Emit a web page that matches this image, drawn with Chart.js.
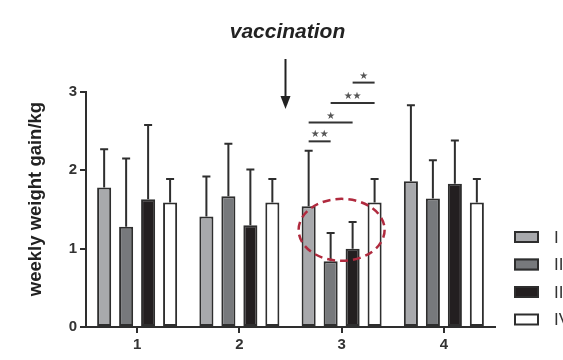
<!DOCTYPE html>
<html><head><meta charset="utf-8">
<script src="https://cdn.jsdelivr.net/npm/chart.js@4"></script>
<style>html,body{margin:0;padding:0;background:#fff}#w{width:563px;height:360px}</style>
</head><body><div id="w"><canvas id="c" width="563" height="360"></canvas></div>
<script>
const categories = ['1','2','3','4'];
const groupNames = ['I','II','III','IV'];
const meanI   = [1.78, 1.41, 1.54, 1.86];
const meanII  = [1.28, 1.67, 0.84, 1.64];
const meanIII = [1.63, 1.30, 1.00, 1.83];
const meanIV  = [1.59, 1.59, 1.59, 1.59];
const errI    = [2.27, 1.92, 2.25, 2.83];
const errII   = [2.15, 2.34, 1.20, 2.13];
const errIII  = [2.58, 2.01, 1.34, 2.38];
const errIV   = [1.89, 1.89, 1.89, 1.89];
const yTicks = [0, 1, 2, 3];
const yTitle = 'weekly weight gain/kg';
// significance: [datasetA, datasetB, label, yLevel] in category 3
const sigCategory = 2;
const sigPairs = [[0,1,'**',2.37],[0,2,'*',2.61],[1,3,'**',2.86],[2,3,'*',3.12]];

const fills = ['#a8a9ac','#77797c','#231f20','#ffffff'];
const edge = '#2e2e2e';
const FONT = '"Liberation Sans", Arial, Helvetica, sans-serif';

const means = [meanI, meanII, meanIII, meanIV];
const errs = [errI, errII, errIII, errIV];

const extras = {
  id:'extras',
  afterDatasetsDraw(chart){
    const ctx = chart.ctx, y = chart.scales.y, x = chart.scales.x;
    ctx.save();
    // error bars
    ctx.strokeStyle = edge; ctx.lineWidth = 2;
    errs.forEach((arr, di) => {
      const meta = chart.getDatasetMeta(di);
      meta.data.forEach((el, i) => {
        const ey = y.getPixelForValue(arr[i]);
        ctx.beginPath();
        ctx.moveTo(el.x, el.y); ctx.lineTo(el.x, ey);
        ctx.moveTo(el.x-4, ey); ctx.lineTo(el.x+4, ey);
        ctx.stroke();
      });
    });
    // significance lines
    sigPairs.forEach(([a,b,lab,lv]) => {
      const xa = chart.getDatasetMeta(a).data[sigCategory].x;
      const xb = chart.getDatasetMeta(b).data[sigCategory].x;
      const py = y.getPixelForValue(lv);
      ctx.strokeStyle = '#333'; ctx.lineWidth = 2;
      ctx.beginPath(); ctx.moveTo(xa, py); ctx.lineTo(xb, py); ctx.stroke();
      ctx.fillStyle = '#555';
      ctx.font = '10px "DejaVu Sans", sans-serif';
      ctx.textAlign = 'center'; ctx.textBaseline = 'alphabetic';
      ctx.fillText(lab.replace(/\*/g,'★'), (xa+xb)/2, py-4);
    });
    // dashed ellipse around group II/III in category 3
    const e1 = chart.getDatasetMeta(1).data[sigCategory];
    const e2 = chart.getDatasetMeta(2).data[sigCategory];
    const cx = (e1.x+e2.x)/2, cy = y.getPixelForValue(1.24);
    ctx.strokeStyle = '#b02a3e'; ctx.lineWidth = 2.5; ctx.setLineDash([8,5]);
    ctx.beginPath(); ctx.ellipse(cx, cy, 43, 31, 0, 0, Math.PI*2); ctx.stroke();
    ctx.setLineDash([]);
    // vaccination arrow
    const ax = (x.getPixelForValue(1)+x.getPixelForValue(2))/2 - 5;
    ctx.strokeStyle = '#222'; ctx.fillStyle = '#222'; ctx.lineWidth = 2;
    ctx.beginPath(); ctx.moveTo(ax, 59); ctx.lineTo(ax, 100); ctx.stroke();
    ctx.beginPath(); ctx.moveTo(ax-5, 96); ctx.lineTo(ax+5, 96); ctx.lineTo(ax, 109); ctx.closePath(); ctx.fill();
    ctx.font = 'bold italic 21px ' + FONT;
    ctx.textAlign = 'center'; ctx.textBaseline = 'middle';
    ctx.fillText('vaccination', ax+2, 32);
    // y-axis title
    ctx.save();
    ctx.translate(36, 199); ctx.rotate(-Math.PI/2);
    ctx.fillStyle = '#222'; ctx.font = 'bold 18.5px ' + FONT;
    ctx.textAlign = 'center'; ctx.textBaseline = 'middle';
    ctx.fillText(yTitle, 0, 0);
    ctx.restore();
    // legend
    groupNames.forEach((n, i) => {
      const ly = 231 + i*27.5;
      ctx.fillStyle = fills[i]; ctx.fillRect(514, ly, 25, 12);
      ctx.strokeStyle = edge; ctx.lineWidth = 2; ctx.strokeRect(515, ly+1, 23, 10);
      ctx.fillStyle = '#333'; ctx.font = '17px ' + FONT;
      ctx.textAlign = 'left'; ctx.textBaseline = 'middle';
      ctx.fillText(n, 554, ly+7);
    });
    ctx.restore();
  }
};

new Chart(document.getElementById('c'), {
  type:'bar',
  data:{
    labels: categories,
    datasets: means.map((m,i)=>({label: groupNames[i], data: m, backgroundColor: fills[i], borderColor: edge, borderWidth: 2, borderSkipped: false,
      categoryPercentage: 0.86, barPercentage: 0.64}))
  },
  options:{
    responsive:false, animation:false,
    layout:{padding:{left:0, right:68, top:92, bottom:0}},
    plugins:{legend:{display:false}, tooltip:{enabled:false}},
    scales:{
      x:{
        grid:{display:true, offset:false, drawOnChartArea:false, drawTicks:true, tickLength:6, color:edge, lineWidth:2},
        border:{display:true, color:edge, width:2},
        ticks:{color:'#333', font:{family:FONT, size:15, weight:'bold'}, padding:3},
        afterFit(s){ s.height = 33; }
      },
      y:{
        min:0, max:3,
        afterBuildTicks(s){ s.ticks = yTicks.map(v=>({value:v})); },
        grid:{display:true, drawOnChartArea:false, drawTicks:true, tickLength:6, color:edge, lineWidth:2},
        border:{display:true, color:edge, width:2},
        ticks:{color:'#333', font:{family:FONT, size:15, weight:'bold'}, padding:3},
        afterFit(s){ s.width = 86; }
      }
    }
  },
  plugins:[extras]
});
</script></body></html>
